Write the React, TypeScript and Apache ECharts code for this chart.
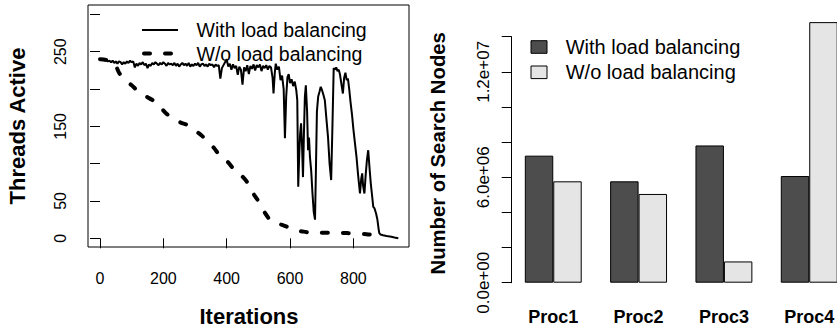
import React, { useEffect, useRef } from 'react';
import * as echarts from 'echarts';

const FONT = '"Liberation Sans", Arial, Helvetica, sans-serif';

// ---- Left panel: threads active over iterations ----
const withIter = [
  0, 5, 10, 15, 20, 25, 30, 35, 40, 45, 50, 55, 60, 65, 70, 75, 80, 85, 90, 95,
  100, 105, 110, 115, 120, 125, 130, 135, 140, 145, 150, 155, 160, 165, 170, 175, 180, 185, 190, 195,
  200, 205, 210, 215, 220, 225, 230, 235, 240, 245, 250, 255, 260, 265, 270, 275, 280, 285, 290, 295,
  300, 305, 310, 315, 320, 325, 330, 335, 340, 345, 350, 355, 360, 365, 370, 375, 380, 385, 390, 395,
  400, 405, 410, 415, 420, 425, 430, 435, 440, 445, 450, 455, 460, 465, 470, 475, 480, 485, 490, 495,
  500, 505, 510, 515, 520, 525, 530, 535, 540,
  545, 548, 552, 555, 560, 565, 570, 575, 580, 584, 588, 592, 596, 600, 605, 610, 615, 620, 623, 626,
  629, 632, 635, 638, 641, 644, 647, 650, 654, 657, 660, 663, 667, 671, 675, 679, 682, 685, 689, 693,
  697, 700, 705, 710, 715, 720, 725, 730, 734, 738, 742, 746, 750, 754, 758, 763, 767, 771, 775, 779,
  783, 787, 791, 796, 800, 805, 810, 815, 821, 825, 828, 831, 835, 839, 843, 847, 851, 855, 859, 863,
  867, 872, 876, 880, 882, 886, 894, 905, 920, 930, 942,
];
const withThreads = [
  240, 239, 240, 238, 239, 237, 238, 236, 238, 235, 237, 234, 237, 236, 233, 236, 234, 237, 235, 238,
  236, 237, 229, 234, 231, 235, 233, 236, 232, 234, 228, 233, 231, 235, 233, 236, 234, 232, 235, 233,
  236, 234, 231, 235, 233, 234, 232, 235, 231, 234, 230, 233, 235, 232, 234, 231, 235, 230, 233, 231,
  234, 232, 235, 230, 233, 234, 231, 233, 230, 234, 232, 233, 229, 233, 231, 232, 214, 228, 232, 236,
  240, 230, 234, 226, 233, 228, 231, 219, 230, 226, 206, 229, 224, 232, 220, 231, 227, 233, 225, 232,
  229, 233, 224, 231, 228, 232, 226, 231, 229,
  215, 194, 222, 234, 226, 230, 212, 218, 200, 134, 190, 216, 220, 208, 213, 204, 210, 198, 185, 69,
  110, 140, 154, 125, 82, 140, 190, 205, 170, 118, 135, 109, 90, 60, 35, 25, 95, 170, 190, 196,
  203, 200, 193, 185, 160, 136, 100, 78, 150, 228, 226, 229, 224, 226, 219, 205, 194, 215, 222, 212,
  214, 200, 183, 165, 147, 128, 109, 85, 60, 80, 87, 70, 60, 85, 105, 118, 95, 74, 58, 42,
  40, 33, 25, 12, 7, 5, 4, 3, 2, 1, 0,
];
const woIter = [
  0, 20, 40, 50, 60, 70, 85, 100, 115, 130, 150, 170, 190, 210, 230, 255, 275, 295, 320, 340,
  360, 380, 404, 420, 440, 467, 487, 505, 521, 537, 555, 575, 600, 620, 641, 673, 700, 737, 780, 842,
  870, 895,
];
const woThreads = [
  240, 239, 236, 231, 222, 216, 210, 205, 199, 194, 189, 184, 176, 167, 161, 155, 152, 146, 138, 130,
  121, 110, 102, 94, 87, 74, 58, 47, 34, 25, 20, 18, 14, 11, 9, 7.5, 7.5, 7.5, 7, 5.4,
  4, 2,
];
const xTicksLeft = [0, 200, 400, 600, 800];
const yTicksLeft = [0, 50, 100, 150, 200, 250, 300];
const yLabelsLeft = [0, 50, 150, 250];

// ---- Right panel: search nodes per processor ----
const procs = ['Proc1', 'Proc2', 'Proc3', 'Proc4'];
const nodesWith = [7.23e6, 5.77e6, 7.81e6, 6.07e6];
const nodesWithout = [5.77e6, 5.05e6, 1.21e6, 14.83e6];
const yLabelsRight = [0, 6e6, 1.2e7];

const seriesNames = ['With load balancing', 'W/o load balancing'];

function sci(v: number): string {
  const s = v.toExponential(1);
  const [m, e] = s.split('e');
  const sign = e[0] === '-' ? '-' : '+';
  const digits = e.replace(/^[+-]/, '').padStart(2, '0');
  return `${m}e${sign}${digits}`;
}

export default function App() {
  const ref = useRef<HTMLDivElement>(null);
  useEffect(() => {
    if (!ref.current) return;
    document.body.style.margin = '0';
    document.body.style.overflow = 'hidden';
    const chart = echarts.init(ref.current, undefined, { renderer: 'svg' });
    const withData = withIter.map((x, i) => [x, withThreads[i]]);
    const woData = woIter.map((x, i) => [x, woThreads[i]]);
    const tickLabel = { color: '#000', fontFamily: FONT };
    chart.setOption({
      animation: false,
      textStyle: { fontFamily: FONT, color: '#000' },
      grid: [
        { left: 88, top: 5, width: 321, height: 242, show: true, borderColor: '#000', borderWidth: 1, backgroundColor: 'transparent' },
        { left: 510.6, top: 36.7, width: 341.3, height: 246 },
      ],
      xAxis: [
        {
          gridIndex: 0, type: 'value', min: -37.9, max: 975.8,
          axisLine: { show: false }, splitLine: { show: false },
          axisTick: { show: true, customValues: xTicksLeft, length: 10, lineStyle: { color: '#000', width: 1 } },
          axisLabel: { ...tickLabel, customValues: xTicksLeft, fontSize: 16, margin: 23 },
        },
        {
          gridIndex: 1, type: 'category', data: procs,
          axisLine: { show: false }, axisTick: { show: false }, splitLine: { show: false },
          axisLabel: { ...tickLabel, fontSize: 18, fontWeight: 'bold', margin: 25 },
        },
      ],
      yAxis: [
        {
          gridIndex: 0, type: 'value', min: -11.66, max: 312.6,
          axisLine: { show: false }, splitLine: { show: false },
          axisTick: { show: true, customValues: yTicksLeft, length: 10, lineStyle: { color: '#000', width: 1 } },
          axisLabel: { ...tickLabel, customValues: yLabelsLeft, fontSize: 16, rotate: 90, margin: 20 },
        },
        {
          gridIndex: 1, type: 'value', min: 0, max: 1.4e7, interval: 2e6, offset: -1.1,
          axisLine: { show: true, lineStyle: { color: '#000', width: 1 } },
          splitLine: { show: false },
          axisTick: { show: true, length: 10, lineStyle: { color: '#000', width: 1 } },
          axisLabel: { ...tickLabel, customValues: yLabelsRight, fontSize: 17, rotate: 90, margin: 20, formatter: (v: number) => sci(v) },
        },
      ],
      series: [
        {
          name: seriesNames[0], type: 'line', xAxisIndex: 0, yAxisIndex: 0, data: withData,
          symbol: 'none', lineStyle: { color: '#000', width: 2 }, z: 3,
        },
        {
          name: seriesNames[1], type: 'line', xAxisIndex: 0, yAxisIndex: 0, data: woData,
          symbol: 'none', smooth: 0.3, lineStyle: { color: '#000', width: 4, type: [6, 15], cap: 'round' }, z: 2,
        },
        {
          name: seriesNames[0], type: 'bar', xAxisIndex: 1, yAxisIndex: 1, data: nodesWith,
          barWidth: 28.45, barGap: '0%', clip: false,
          itemStyle: { color: '#4d4d4d', borderColor: '#000', borderWidth: 1 },
        },
        {
          name: seriesNames[1], type: 'bar', xAxisIndex: 1, yAxisIndex: 1, data: nodesWithout,
          barWidth: 28.45, barGap: '0%', clip: false,
          itemStyle: { color: '#e5e5e5', borderColor: '#000', borderWidth: 1 },
        },
      ],
      graphic: [
        { type: 'text', x: 17.5, y: 126, rotation: Math.PI / 2, style: { text: 'Threads Active', fontSize: 22, fontWeight: 'bold', fontFamily: FONT, fill: '#000', align: 'center', verticalAlign: 'middle' } },
        { type: 'text', x: 249, y: 316.5, style: { text: 'Iterations', fontSize: 22, fontWeight: 'bold', fontFamily: FONT, fill: '#000', align: 'center', verticalAlign: 'middle' } },
        { type: 'text', x: 437.5, y: 153.3, rotation: Math.PI / 2, style: { text: 'Number of Search Nodes', fontSize: 20.3, fontWeight: 'bold', fontFamily: FONT, fill: '#000', align: 'center', verticalAlign: 'middle' } },
        // left legend
        { type: 'line', shape: { x1: 142, y1: 30, x2: 178, y2: 30 }, style: { stroke: '#000', lineWidth: 2 } },
        { type: 'line', shape: { x1: 144, y1: 53.5, x2: 178, y2: 53.5 }, style: { stroke: '#000', lineWidth: 4, lineDash: [6, 15], lineCap: 'round' } },
        { type: 'text', x: 196.5, y: 30, style: { text: seriesNames[0], fontSize: 19.5, fontFamily: FONT, fill: '#000', align: 'left', verticalAlign: 'middle' } },
        { type: 'text', x: 196.5, y: 53.8, style: { text: seriesNames[1], fontSize: 19.5, fontFamily: FONT, fill: '#000', align: 'left', verticalAlign: 'middle' } },
        // right legend
        { type: 'rect', shape: { x: 531, y: 40.7, width: 16, height: 12.6 }, style: { fill: '#4d4d4d', stroke: '#000', lineWidth: 1 } },
        { type: 'rect', shape: { x: 531, y: 66, width: 16, height: 12.6 }, style: { fill: '#e5e5e5', stroke: '#000', lineWidth: 1 } },
        { type: 'text', x: 565.7, y: 46.5, style: { text: seriesNames[0], fontSize: 20, fontFamily: FONT, fill: '#000', align: 'left', verticalAlign: 'middle' } },
        { type: 'text', x: 565.7, y: 72.3, style: { text: seriesNames[1], fontSize: 20, fontFamily: FONT, fill: '#000', align: 'left', verticalAlign: 'middle' } },
      ],
    });
    return () => chart.dispose();
  }, []);
  return (
    <div
      ref={ref}
      style={{ position: 'fixed', left: 0, top: 0, width: 880, height: 330, background: '#fff', overflow: 'hidden' }}
    />
  );
}
